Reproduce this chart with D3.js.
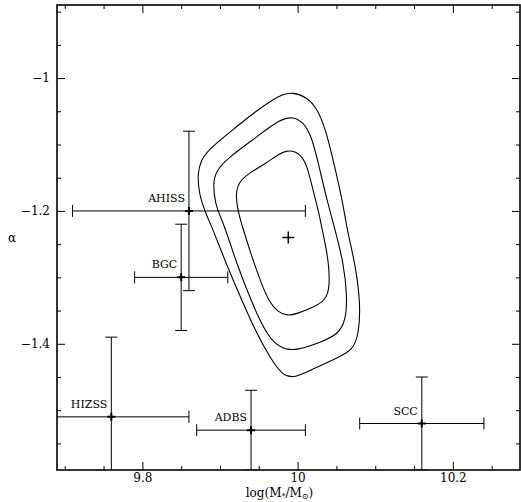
<!DOCTYPE html>
<html>
<head>
<meta charset="utf-8">
<script src="https://cdn.jsdelivr.net/npm/d3@7/dist/d3.min.js"></script>
<style>
  html, body { margin: 0; padding: 0; background: #fff; }
  svg { display: block; }
  text { font-family: "DejaVu Serif", "Liberation Serif", serif; fill: #000; }
</style>
</head>
<body>
<svg id="chart" width="521" height="502"></svg>
<script>
// ---------------- data ----------------
const surveys     = ["AHISS", "BGC", "HIZSS", "ADBS", "SCC"];
const logMass     = [9.86, 9.85, 9.76, 9.94, 10.16];
const logMassErr  = [0.15, 0.06, 0.10, 0.07, 0.08];
const alphaVal    = [-1.20, -1.30, -1.51, -1.53, -1.52];
const alphaErr    = [0.12, 0.08, 0.12, 0.06, 0.07];

const bestFit = [9.988, -1.240];

// confidence contours (log M*, alpha), inner -> outer
const contourInner = [
  [9.990,-1.108],[10.003,-1.114],[10.012,-1.130],[10.020,-1.170],[10.027,-1.200],
  [10.033,-1.236],[10.039,-1.268],[10.042,-1.313],[10.036,-1.335],[10.020,-1.345],
  [9.999,-1.355],[9.986,-1.358],[9.975,-1.352],[9.964,-1.339],[9.951,-1.303],
  [9.938,-1.258],[9.930,-1.228],[9.923,-1.200],[9.920,-1.175],[9.924,-1.157],
  [9.936,-1.144],[9.960,-1.128],[9.977,-1.113]
];
const contourMiddle = [
  [9.994,-1.058],[10.007,-1.066],[10.018,-1.087],[10.027,-1.130],[10.037,-1.180],
  [10.050,-1.236],[10.059,-1.278],[10.064,-1.329],[10.062,-1.365],[10.052,-1.386],
  [10.029,-1.398],[9.999,-1.410],[9.984,-1.408],[9.973,-1.402],[9.960,-1.385],
  [9.943,-1.344],[9.921,-1.278],[9.908,-1.230],[9.901,-1.210],[9.894,-1.190],
  [9.891,-1.160],[9.894,-1.142],[9.908,-1.122],[9.947,-1.089],[9.977,-1.062]
];
const contourOuter = [
  [9.994,-1.021],[10.012,-1.029],[10.025,-1.045],[10.037,-1.080],[10.048,-1.135],
  [10.057,-1.180],[10.065,-1.236],[10.074,-1.278],[10.081,-1.339],[10.079,-1.385],
  [10.071,-1.410],[10.050,-1.422],[10.016,-1.440],[9.997,-1.451],[9.981,-1.449],
  [9.964,-1.420],[9.947,-1.384],[9.926,-1.329],[9.904,-1.268],[9.891,-1.228],
  [9.882,-1.205],[9.873,-1.175],[9.871,-1.145],[9.875,-1.124],[9.887,-1.106],
  [9.913,-1.081],[9.947,-1.049],[9.977,-1.025]
];
const contours = [contourInner, contourMiddle, contourOuter];

const xTickLabels = [9.8, 10, 10.2];
const yTickLabels = [-1.4, -1.2, -1];
const xLabel = ["log(M", "*", "/M", "⊙", ")"];
const yLabel = "α";

// ---------------- layout ----------------
const W = 521, H = 502;
const m = { left: 57, right: 1, top: 5, bottom: 32 };
const pw = W - m.left - m.right, ph = H - m.top - m.bottom;

const svg = d3.select("#chart");
const g = svg.append("g").attr("transform", `translate(${m.left},${m.top})`);

const x = d3.scaleLinear().domain([9.69, 10.2865]).range([0, pw]);
const y = d3.scaleLinear().domain([-1.59, -0.89]).range([ph, 0]);

const fmt = d3.format("~g");
const xMinor = d3.range(9.70, 10.2851, 0.05).map(v => +v.toFixed(2)).filter(v => !xTickLabels.includes(v));
const yMinor = d3.range(-1.55, -0.8899, 0.05).map(v => +v.toFixed(2)).filter(v => !yTickLabels.includes(v));

function styleAxis(sel) {
  sel.select(".domain").remove();
  sel.selectAll("line").attr("stroke", "#000").attr("stroke-width", 1);
  sel.selectAll("text").attr("font-family", "DejaVu Serif, serif").attr("font-size", 12).attr("fill", "#000");
}

// bottom
g.append("g").attr("transform", `translate(0,${ph})`)
  .call(d3.axisBottom(x).tickValues(xTickLabels).tickFormat(fmt).tickSize(-8).tickPadding(3))
  .call(styleAxis);
g.append("g").attr("transform", `translate(0,${ph})`)
  .call(d3.axisBottom(x).tickValues(xMinor).tickFormat("").tickSize(-4))
  .call(styleAxis);
// top
g.append("g")
  .call(d3.axisTop(x).tickValues(xTickLabels).tickFormat("").tickSize(-8))
  .call(styleAxis);
g.append("g")
  .call(d3.axisTop(x).tickValues(xMinor).tickFormat("").tickSize(-4))
  .call(styleAxis);
// left
g.append("g")
  .call(d3.axisLeft(y).tickValues(yTickLabels).tickFormat(fmt).tickSize(-8).tickPadding(7))
  .call(styleAxis);
g.append("g")
  .call(d3.axisLeft(y).tickValues(yMinor).tickFormat("").tickSize(-4))
  .call(styleAxis);
// right
g.append("g").attr("transform", `translate(${pw},0)`)
  .call(d3.axisRight(y).tickValues(yTickLabels).tickFormat("").tickSize(-8))
  .call(styleAxis);
g.append("g").attr("transform", `translate(${pw},0)`)
  .call(d3.axisRight(y).tickValues(yMinor).tickFormat("").tickSize(-4))
  .call(styleAxis);

// clip
svg.append("defs").append("clipPath").attr("id", "plotclip")
  .append("rect").attr("x", 0).attr("y", 0).attr("width", pw).attr("height", ph);
const plot = g.append("g").attr("clip-path", "url(#plotclip)");

// contours
const line = d3.line().x(d => x(d[0])).y(d => y(d[1])).curve(d3.curveBasisClosed);
plot.selectAll("path.contour").data(contours).join("path")
  .attr("class", "contour")
  .attr("d", line)
  .attr("fill", "none").attr("stroke", "#000").attr("stroke-width", 1.1);

// best-fit cross
const cs = 6;
plot.append("path")
  .attr("d", `M${x(bestFit[0]) - cs},${y(bestFit[1])}H${x(bestFit[0]) + cs}M${x(bestFit[0])},${y(bestFit[1]) - cs}V${y(bestFit[1]) + cs}`)
  .attr("stroke", "#000").attr("stroke-width", 1.5).attr("fill", "none");

// error bars
const cap = 6;
surveys.forEach((name, i) => {
  const cx = x(logMass[i]), cy = y(alphaVal[i]);
  const x0 = x(logMass[i] - logMassErr[i]), x1 = x(logMass[i] + logMassErr[i]);
  const y0 = y(alphaVal[i] - alphaErr[i]), y1 = y(alphaVal[i] + alphaErr[i]);
  const eg = plot.append("g").attr("stroke", "#000").attr("stroke-width", 1).attr("fill", "none");
  eg.append("path").attr("d",
    `M${x0},${cy}H${x1}` +
    `M${x0},${cy - cap}V${cy + cap}M${x1},${cy - cap}V${cy + cap}` +
    `M${cx},${y0}V${y1}` +
    `M${cx - cap},${y0}H${cx + cap}M${cx - cap},${y1}H${cx + cap}`);
  eg.append("path").attr("stroke-width", 2)
    .attr("d", `M${cx - 4},${cy}H${cx + 4}M${cx},${cy - 4}V${cy + 4}`);
  g.append("text")
    .attr("x", cx - 4).attr("y", cy - 9)
    .attr("text-anchor", "end")
    .attr("font-size", 11)
    .text(name);
});

// frame
g.append("rect").attr("x", 0).attr("y", 0).attr("width", pw).attr("height", ph)
  .attr("fill", "none").attr("stroke", "#000").attr("stroke-width", 1.6);

// axis titles
const xt = svg.append("text")
  .attr("x", m.left + pw / 2 - 9).attr("y", H - 5)
  .attr("text-anchor", "middle").attr("font-size", 12);
xt.append("tspan").text(xLabel[0]);
xt.append("tspan").attr("font-size", 8).attr("dy", 1.5).text(xLabel[1]);
xt.append("tspan").attr("dy", -1.5).text(xLabel[2]);
xt.append("tspan").attr("font-size", 8).attr("dy", 1.5).text(xLabel[3]);
xt.append("tspan").attr("dy", -1.5).text(xLabel[4]);

svg.append("text")
  .attr("x", 12).attr("y", m.top + ph / 2)
  .attr("dy", "0.35em")
  .attr("text-anchor", "middle").attr("font-size", 12)
  .text(yLabel);
</script>
</body>
</html>
